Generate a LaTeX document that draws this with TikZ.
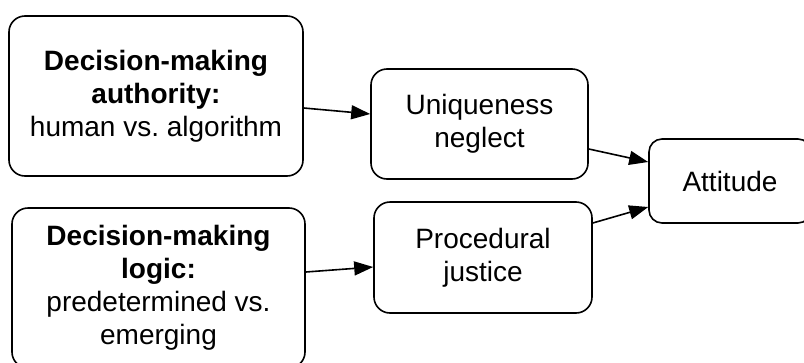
\documentclass[tikz,border=0pt]{standalone}
\usepackage{fontspec}
\setmainfont{Liberation Sans}
\usetikzlibrary{arrows.meta}

\begin{document}
\begin{tikzpicture}[x=1pt, y=-1pt, line width=1.6pt,
    box/.style={draw, rounded corners=16pt, align=center, inner sep=0pt,
        font=\fontsize{28}{33}\selectfont},
    arr/.style={-{Triangle[length=19pt, width=14pt]}}]
\useasboundingbox (0,0) rectangle (804,362);

\node[box, minimum width=294pt, minimum height=160pt] (auth) at (156, 96) {\textbf{Decision-making}\\ \textbf{authority:}\\ human vs.\ algorithm};
\node[box, minimum width=293pt, minimum height=160pt] (logic) at (158.5, 288) {\textbf{Decision-making}\\ \textbf{logic:}\\ predetermined vs.\\ emerging};
\node[box, minimum width=217pt, minimum height=110pt] (uniq) at (479.5, 124) {Uniqueness\\ neglect};
\node[box, minimum width=218pt, minimum height=111pt] (just) at (483, 257.5) {Procedural\\ justice};
\node[box, rounded corners=13pt, minimum width=162pt, minimum height=84pt] (att) at (730, 181) {Attitude};

\draw[arr] ([yshift=-12pt]auth.east) -- ([yshift=10pt]uniq.west);
\draw[arr] ([yshift=16pt]logic.east) -- ([yshift=-9.5pt]just.west);
\draw[arr] ([yshift=-25pt]uniq.east) -- ([yshift=19pt]att.west);
\draw[arr] ([yshift=34.5pt]just.east) -- ([yshift=-26pt]att.west);
\end{tikzpicture}
\end{document}
